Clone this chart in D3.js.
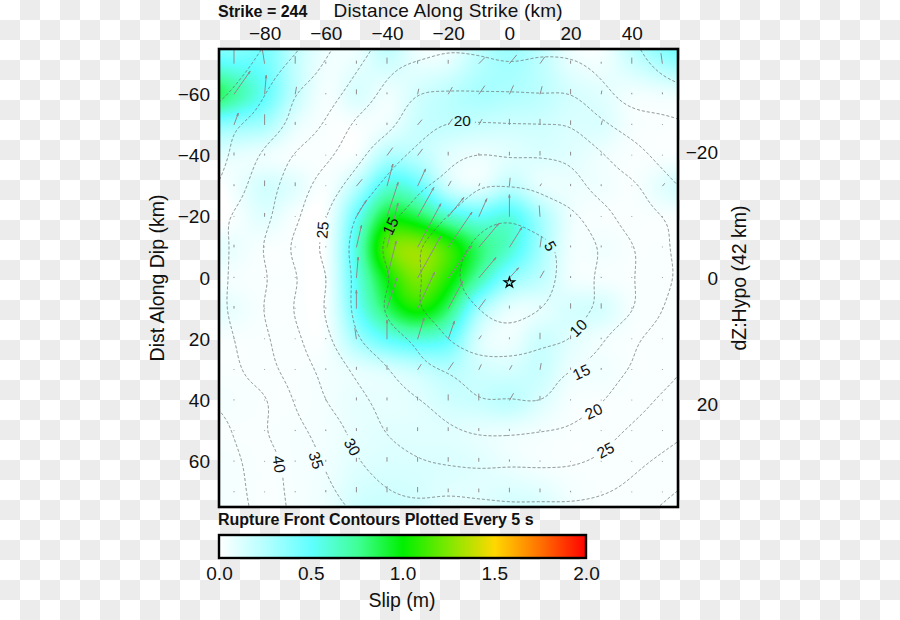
<!DOCTYPE html>
<html>
<head>
<meta charset="utf-8">
<script src="https://cdn.jsdelivr.net/npm/d3@7"></script>
<style>
html,body{margin:0;padding:0;background:#fff}
svg{display:block}
text{font-family:"Liberation Sans",Arial,sans-serif;fill:#111}
</style>
</head>
<body>
<svg id="chart" width="900" height="620"></svg>
<script>
// ---- data ----
const alongStrike = [-90,-80,-70,-60,-50,-40,-30,-20,-10,0,10,20,30,40,50];
const alongDip = [-70,-60,-50,-40,-30,-20,-10,0,10,20,30,40,50,60,70];
const slip = [
[.50,.45,.20,.05,.08,.16,.08,.10,.24,.30,.22,.08,.05,.16,.28],
[.74,.50,.20,.03,.13,.05,.15,.22,.28,.26,.22,.14,.10,.04,.05],
[.33,.28,.08,.02,.02,.06,.18,.20,.18,.16,.16,.12,.12,.03,.02],
[.08,.05,.02,.02,.03,.26,.22,.10,.06,.10,.12,.10,.05,.02,.02],
[.05,.15,.10,.02,.24,.60,.50,.16,.08,.22,.08,.06,.05,.02,.10],
[.02,.10,.02,.02,.50,.95,.88,.65,.52,.58,.30,.06,.02,.02,.02],
[.07,.02,.02,.03,.60,1.20,1.30,1.12,.82,.62,.30,.05,.05,.02,.02],
[.03,.02,.02,.03,.55,1.00,1.25,1.05,.70,.36,.22,.05,.03,.02,.02],
[.07,.02,.02,.03,.48,.85,1.05,.82,.30,.08,.08,.14,.14,.03,.02],
[.02,.02,.02,.03,.30,.50,.58,.50,.12,.05,.17,.10,.04,.02,.02],
[.02,.02,.02,.04,.08,.12,.18,.24,.16,.14,.18,.06,.05,.02,.02],
[.03,.02,.02,.04,.08,.08,.10,.16,.18,.22,.12,.03,.02,.02,.02],
[.02,.02,.03,.04,.08,.10,.10,.10,.08,.06,.04,.02,.02,.02,.02],
[.03,.02,.03,.05,.10,.12,.12,.12,.10,.06,.03,.02,.02,.02,.02],
[.03,.02,.03,.06,.14,.16,.14,.10,.10,.12,.10,.04,.02,.02,.02]
];
const rake = [
[0,-9,0,0,0,0,0,0,45,40,35,0,0,0,-8],
[35,5,10,0,0,0,12,30,35,25,15,0,10,0,0],
[20,0,0,0,0,0,40,35,30,0,0,0,15,0,0],
[0,0,0,0,0,36,37,0,0,0,0,0,0,0,0],
[0,0,0,0,40,15,25,30,20,5,30,0,0,0,40],
[0,0,0,0,31,18,29,39,24,0,-4,0,0,0,0],
[0,0,0,0,13,14,28,34,40,32,8,0,0,0,0],
[0,0,0,0,5,14,29,36,40,42,30,0,0,0,0],
[0,0,0,0,0,18,25,28,36,0,0,0,0,0,0],
[0,0,0,0,-8,0,17,19,35,0,0,0,0,0,0],
[0,0,0,0,0,0,33,35,25,30,10,0,0,0,0],
[0,0,0,0,0,0,0,0,0,30,0,0,0,0,0],
[0,0,0,0,0,0,0,0,0,0,0,0,0,0,0],
[0,0,0,0,0,0,0,0,0,0,0,0,0,0,0],
[0,0,0,0,0,0,0,0,0,0,0,0,0,0,0]
];
const ruptureTime = [
[52.5,48,43.7,39.5,35.7,31.5,29.5,28.5,28.8,29.6,29,29.3,31.5,33.5,36],
[49,45,40,37,32.8,28.5,25,24.5,24.5,24.5,24.8,25,28.5,32,33],
[45.5,42.7,38.3,34.3,29,26,22,19.7,19.5,19.7,19.8,20.3,24,27,28.5],
[44,39,34.5,31,26.2,22,18.7,16.2,14.8,15.3,15.3,16.2,19.5,23,26.5],
[42,37,32.5,27.5,22.8,18.8,15.7,13.5,10.3,10,10.8,12.9,17,19.2,23],
[39.5,36,30.8,25,19.8,16,13.2,9.7,6.6,5.7,7.5,9,13,17.5,20],
[39.2,34.7,29,23.8,18.7,14.3,10.4,7,4,2,3.7,7,10.5,14.7,19],
[39.2,35.4,30.3,25,19,15.3,10.5,6.3,3,.5,3.2,7,11,14.7,18.7],
[39,34.8,29.6,24.6,19,14.5,10.4,7.5,5,3.5,5,8,11,14.8,20],
[40,35.8,31,26,20.5,17,14,10,7.5,7,8.7,10.2,14.5,18.9,22.8],
[41,37,32.5,28.5,24,20.3,16.5,14.6,12.5,12.5,13,15,17.5,20.5,23.3],
[43,40.5,34.5,30,26.5,23,20.3,18,15.3,15.2,15,17.5,19.8,23,25.8],
[44.6,40.3,36.5,32.7,28.5,24.7,22.5,20.8,19.5,19.4,20,20.8,23,25.8,28],
[46,42,38,34.5,30.5,27.5,25.5,24.5,24,24.3,24.2,24.5,26,28.7,31],
[46.4,42.8,38.5,36,33,30.4,29.3,29.5,29,28.7,28.7,28.8,29.7,31.5,34]
];
const contourLevels = [5,10,15,20,25,30,35,40,45,50];
const labelText = ["5","10","15","20","25","15","20","25","30","35","40"];
const labelStrike = [13.4,22.5,23.5,27.5,31.4,-38.9,-15.4,-61.1,-51.3,-63.1,-75.2];
const labelDip = [-10.5,16.3,30.7,43.5,56.2,-17,-51.6,-15.7,55.2,59.5,60.8];
const labelTilt = [60,-45,-25,-25,-28,-65,0,-85,60,72,82];
const hypoStrike = [0];
const hypoDip = [1.5];
const strikeTicks = [-80,-60,-40,-20,0,20,40];
const dipTicks = [-60,-40,-20,0,20,40,60];
const depthTicks = [-20,0,20];
const slipTicks = [0,.5,1,1.5,2];
const slipStops = [0,.25,.5,.75,1,1.25,1.5,1.75,2];
const slipColors = ["#ffffff","#b4ffff","#60ffff","#40ff98","#00f000","#80e800","#ffd800","#ff7000","#ff0000"];

// ---- layout ----
const L=219,R=678,T=49,B=507;
const W=R-L,H=B-T;
const svg=d3.select("#chart");
const defs=svg.append("defs");

// transparency checker behind the chart
const pat=defs.append("pattern").attr("id","checker").attr("width",40).attr("height",40).attr("patternUnits","userSpaceOnUse");
pat.append("rect").attr("width",40).attr("height",40).attr("fill","#fff");
pat.append("rect").attr("x",20).attr("y",0).attr("width",20).attr("height",20).attr("fill","#ececec");
pat.append("rect").attr("x",0).attr("y",20).attr("width",20).attr("height",20).attr("fill","#ececec");
svg.append("rect").attr("width",900).attr("height",620).attr("fill","url(#checker)");

const x=d3.scaleLinear().domain([-94.9,55.1]).range([L,R]);
const y=d3.scaleLinear().domain([-74.8,74.8]).range([T,B]);
const dz=d3.scaleLinear().domain([-36.35,36.35]).range([T,B]);
const color=d3.scaleLinear().domain(slipStops).range(slipColors).clamp(true);

// Catmull-Rom sampling of a grid, linear beyond its edge
function cr(p0,p1,p2,p3,t){return .5*(2*p1+(p2-p0)*t+(2*p0-5*p1+4*p2-p3)*t*t+(3*p1-p0-3*p2+p3)*t*t*t);}
function cell(m,i,j){
  const n=m.length,c=m[0].length;
  let ci=i<0?0:i>=n?n-1:i,cj=j<0?0:j>=c?c-1:j;
  let v=m[ci][cj];
  if(j<0)v+=(m[ci][0]-m[ci][1])*(-j);
  if(j>=c)v+=(m[ci][c-1]-m[ci][c-2])*(j-c+1);
  if(i<0)v+=(m[0][cj]-m[1][cj])*(-i);
  if(i>=n)v+=(m[n-1][cj]-m[n-2][cj])*(i-n+1);
  return v;
}
function sample(m,X,Y){
  const u=(X-alongStrike[0])/10,v=(Y-alongDip[0])/10;
  const j=Math.floor(u),i=Math.floor(v),a=u-j,b=v-i,r=[];
  for(let k=-1;k<=2;k++)r.push(cr(cell(m,i+k,j-1),cell(m,i+k,j),cell(m,i+k,j+1),cell(m,i+k,j+2),a));
  return cr(r[0],r[1],r[2],r[3],b);
}
// fine raster of a grid, extended past the frame and softened
const pad=14,gw=W+2*pad,gh=H+2*pad;
function raster(m,radius){
  const f=new Float64Array(gw*gh);
  for(let gy=0;gy<gh;gy++)for(let gx=0;gx<gw;gx++)
    f[gy*gw+gx]=sample(m,x.invert(L-pad+gx),y.invert(T-pad+gy));
  if(d3.blur2)d3.blur2({data:f,width:gw,height:gh},radius);
  return f;
}

// slip image
const sf=raster(slip,4);
const cv=document.createElement("canvas");cv.width=W;cv.height=H;
const g2=cv.getContext("2d"),img=g2.createImageData(W,H);
for(let py=0;py<H;py++)for(let px=0;px<W;px++){
  const s=Math.max(0,sf[(py+pad)*gw+px+pad]);
  const c=d3.rgb(color(s)),o=(py*W+px)*4;
  img.data[o]=c.r;img.data[o+1]=c.g;img.data[o+2]=c.b;img.data[o+3]=255;
}
g2.putImageData(img,0,0);
defs.append("clipPath").attr("id","plotClip").append("rect").attr("x",L).attr("y",T).attr("width",W).attr("height",H);
const plot=svg.append("g").attr("clip-path","url(#plotClip)");
plot.append("image").attr("x",L).attr("y",T).attr("width",W).attr("height",H).attr("href",cv.toDataURL());

// rupture contours, with gaps where labels sit
const labelIdx=d3.range(labelText.length);
const mask=defs.append("mask").attr("id","labelGaps").attr("maskUnits","userSpaceOnUse").attr("x",0).attr("y",0).attr("width",900).attr("height",620);
mask.append("rect").attr("width",900).attr("height",620).attr("fill","#fff");
mask.selectAll("rect.gap").data(labelIdx).join("rect").attr("class","gap")
  .attr("x",i=>-(labelText[i].length*4.8+3)).attr("y",-9).attr("width",i=>2*(labelText[i].length*4.8+3)).attr("height",18)
  .attr("fill","#000")
  .attr("transform",i=>`translate(${x(labelStrike[i])},${y(labelDip[i])}) rotate(${labelTilt[i]})`);

const tf=raster(ruptureTime,5);
const polys=d3.contours().size([gw,gh]).thresholds(contourLevels)(tf);
const geo=d3.geoPath(d3.geoTransform({point(a,b){this.stream.point(a+L-pad,b+T-pad);}}));
plot.append("g").attr("mask","url(#labelGaps)").selectAll("path").data(polys).join("path")
  .attr("d",geo).attr("fill","none").attr("stroke","#6a6a6a").attr("stroke-width",.8).attr("stroke-dasharray","3 2");

// slip vectors
const arrowK=38;
const vecs=[];
alongDip.forEach((d,i)=>alongStrike.forEach((s,j)=>vecs.push({s,d,v:slip[i][j],a:rake[i][j]*Math.PI/180})));
plot.append("g").selectAll("path").data(vecs).join("path")
  .attr("d",e=>{
    const x0=x(e.s),y0=y(e.d),len=Math.max(e.v*arrowK,.8);
    const ux=Math.sin(e.a),uy=-Math.cos(e.a),x1=x0+ux*len,y1=y0+uy*len;
    let p=`M${x0},${y0}L${x1},${y1}`;
    if(len>12){
      const bx=x1-ux*3,by=y1-uy*3;
      p+=`M${bx-uy*.7},${by+ux*.7}L${x1},${y1}L${bx+uy*.7},${by-ux*.7}`;
    }
    return p;
  })
  .attr("fill","none").attr("stroke","#8f8a8c").attr("stroke-width",1);

// contour labels
plot.append("g").selectAll("text").data(labelIdx).join("text")
  .attr("transform",i=>`translate(${x(labelStrike[i])},${y(labelDip[i])}) rotate(${labelTilt[i]})`)
  .attr("text-anchor","middle").attr("dy","0.36em").attr("font-size",15.5).text(i=>labelText[i]);

// hypocentre
plot.selectAll("path.star").data(hypoStrike).join("path").attr("class","star")
  .attr("d",d3.symbol(d3.symbolStar,32)())
  .attr("transform",(d,i)=>`translate(${x(d)},${y(hypoDip[i])})`)
  .attr("fill","none").attr("stroke","#000").attr("stroke-width",1.3);

// frame
svg.append("rect").attr("x",L).attr("y",T).attr("width",W).attr("height",H).attr("fill","none").attr("stroke","#000").attr("stroke-width",2.6);

// axes
const tickSize=19;
function cleanAxis(g){g.select(".domain").remove();g.selectAll("line").remove();g.selectAll("text").attr("font-size",tickSize).attr("font-family",'"Liberation Sans",Arial,sans-serif').attr("fill","#111");}
svg.append("g").attr("transform",`translate(0,${T})`)
  .call(d3.axisTop(x).tickValues(strikeTicks).tickSize(0).tickPadding(9)).call(cleanAxis);
svg.append("g").attr("transform",`translate(${L},0)`)
  .call(d3.axisLeft(y).tickValues(dipTicks).tickSize(0).tickPadding(9)).call(cleanAxis);
svg.append("g").attr("transform",`translate(727,0)`)
  .call(d3.axisLeft(dz).tickValues(depthTicks).tickSize(0).tickPadding(9)).call(cleanAxis);

svg.append("text").attr("x",448).attr("y",17.4).attr("text-anchor","middle").attr("font-size",19).attr("textLength",229).text("Distance Along Strike (km)");
svg.append("text").attr("transform","translate(164,278) rotate(-90)").attr("text-anchor","middle").attr("font-size",19.5).text("Dist Along Dip (km)");
svg.append("text").attr("transform","translate(746,278) rotate(-90)").attr("text-anchor","middle").attr("font-size",19.5).text("dZ:Hypo (42 km)");
svg.append("text").attr("x",218).attr("y",16.5).attr("font-size",16).attr("font-weight","bold").text("Strike = 244");
svg.append("text").attr("x",218).attr("y",524.5).attr("font-size",16).attr("font-weight","bold").text("Rupture Front Contours Plotted Every 5 s");

// colour bar
const CL=219,CR=586,CT=535,CB=558;
const cx=d3.scaleLinear().domain([0,2]).range([CL,CR]);
const bins=d3.range(0,2,2/(CR-CL));
svg.append("g").selectAll("rect").data(bins).join("rect")
  .attr("x",d=>cx(d)).attr("y",CT).attr("width",1.4).attr("height",CB-CT).attr("fill",d=>color(d));
svg.append("rect").attr("x",CL).attr("y",CT).attr("width",CR-CL).attr("height",CB-CT).attr("fill","none").attr("stroke","#000").attr("stroke-width",2.4);
svg.append("g").attr("transform",`translate(0,${CB})`)
  .call(d3.axisBottom(cx).tickValues(slipTicks).tickFormat(d3.format(".1f")).tickSize(0).tickPadding(9)).call(cleanAxis);
svg.append("text").attr("x",402).attr("y",607).attr("text-anchor","middle").attr("font-size",19.5).text("Slip (m)");
</script>
</body>
</html>
